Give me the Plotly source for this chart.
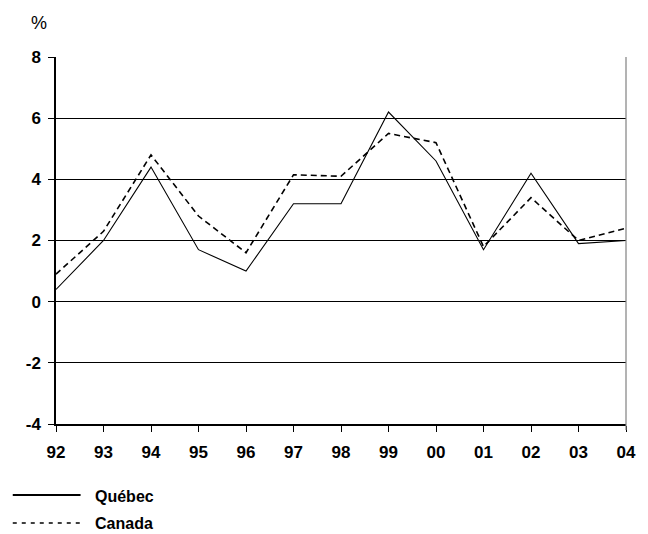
import plotly.graph_objects as go

years = ["92", "93", "94", "95", "96", "97", "98", "99", "00", "01", "02", "03", "04"]
quebec = [0.4, 2.0, 4.4, 1.7, 1.0, 3.2, 3.2, 6.2, 4.6, 1.7, 4.2, 1.9, 2.0]
canada = [0.9, 2.3, 4.8, 2.8, 1.6, 4.15, 4.1, 5.5, 5.2, 1.8, 3.4, 2.0, 2.4]
y_ticks = [-4, -2, 0, 2, 4, 6, 8]
y_labels = ["-4", "-2", "0", "2", "4", "6", "8"]

FONT = "Liberation Sans, Arial, sans-serif"
xs = list(range(len(years)))

fig = go.Figure()
fig.add_trace(go.Scatter(x=xs, y=quebec, mode="lines", name="Québec",
                         line=dict(color="black", width=1.1), showlegend=False))
fig.add_trace(go.Scatter(x=xs, y=canada, mode="lines", name="Canada",
                         line=dict(color="black", width=1.6, dash="6px,4px"), showlegend=False))

W, H = 648, 534
L, R, T, B = 56, 12, 57, 110
pw, ph = W - L - R, H - T - B

def px_x(p):
    return (p - L) / pw

def px_y(p):
    return (H - B - p) / ph

shapes = [
    dict(type="line", xref="paper", yref="paper", x0=1, x1=1, y0=px_y(430), y1=1,
         line=dict(color="#808080", width=1.2)),
    dict(type="line", xref="paper", yref="paper", x0=px_x(12), x1=px_x(81),
         y0=px_y(495), y1=px_y(495), line=dict(color="black", width=2)),
    dict(type="line", xref="paper", yref="paper", x0=px_x(12), x1=px_x(81),
         y0=px_y(523), y1=px_y(523), line=dict(color="black", width=1.5, dash="4px,5px")),
]
annotations = [
    dict(text="%", xref="paper", yref="paper", x=px_x(29), y=px_y(23), showarrow=False,
         xanchor="left", yanchor="middle", font=dict(family=FONT, size=18, color="black")),
    dict(text="<b>Québec</b>", xref="paper", yref="paper", x=px_x(94), y=px_y(496), showarrow=False,
         xanchor="left", yanchor="middle", font=dict(family=FONT, size=16, color="black")),
    dict(text="<b>Canada</b>", xref="paper", yref="paper", x=px_x(94), y=px_y(523), showarrow=False,
         xanchor="left", yanchor="middle", font=dict(family=FONT, size=16, color="black")),
]

fig.update_layout(
    width=W, height=H,
    margin=dict(l=L, r=R, t=T, b=B),
    paper_bgcolor="white", plot_bgcolor="white",
    shapes=shapes, annotations=annotations,
    xaxis=dict(range=[0, len(years) - 1], tickmode="array", tickvals=xs, ticktext=years,
               showgrid=False, zeroline=False, showline=True, linecolor="black", linewidth=1.5,
               ticks="outside", ticklen=6, tickcolor="black", ticklabelstandoff=6,
               tickfont=dict(family=FONT, size=17, color="black", weight="bold")),
    yaxis=dict(range=[-4, 8], tickmode="array", tickvals=y_ticks, ticktext=y_labels,
               showgrid=True, gridcolor="black", gridwidth=1, zeroline=False,
               showline=True, linecolor="black", linewidth=1.5,
               ticks="outside", ticklen=6, tickcolor="black", ticklabelstandoff=4,
               tickfont=dict(family=FONT, size=17, color="black", weight="bold")),
)

fig.write_html("out.html", config={"displayModeBar": False, "responsive": False},
               post_script="document.body.style.margin='0px';document.body.style.overflow='hidden';")
